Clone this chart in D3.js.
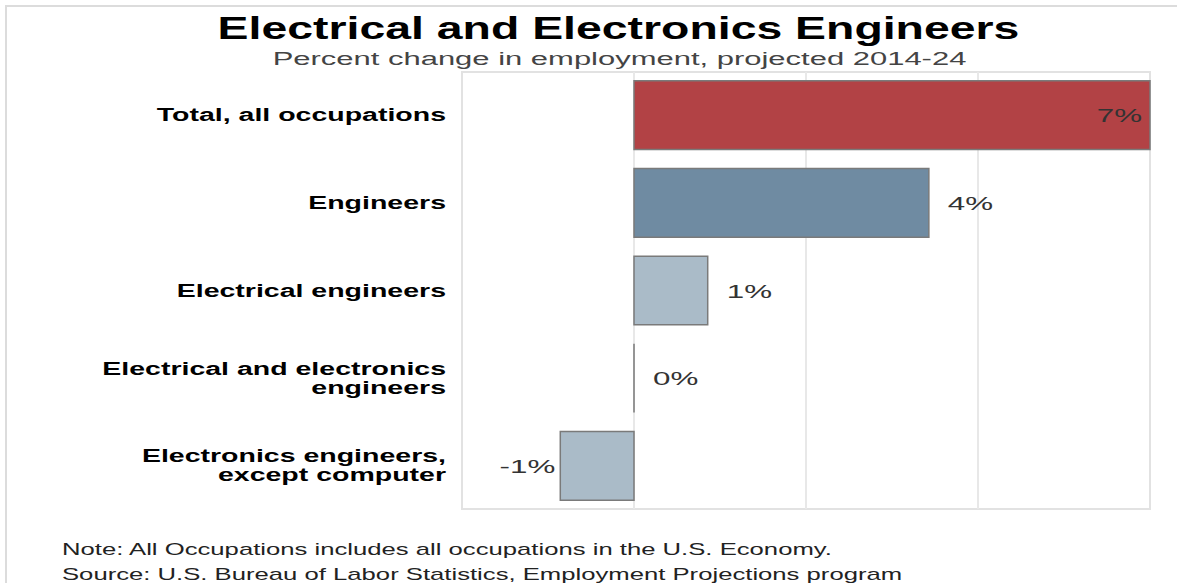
<!DOCTYPE html>
<html>
<head>
<meta charset="utf-8">
<script src="https://cdn.jsdelivr.net/npm/d3@7"></script>
<style>
  body { margin: 0; background: #fff; }
  text { font-family: "Liberation Sans", Arial, sans-serif; }
</style>
</head>
<body>
<div id="chart"></div>
<script>
// Data
const categories = [
  "Total, all occupations",
  "Engineers",
  "Electrical engineers",
  "Electrical and electronics engineers",
  "Electronics engineers, except computer"
];
const labelLines = [
  ["Total, all occupations"],
  ["Engineers"],
  ["Electrical engineers"],
  ["Electrical and electronics", "engineers"],
  ["Electronics engineers,", "except computer"]
];
const values = [7, 4, 1, 0, -1];
const valueLabels = ["7%", "4%", "1%", "0%", "-1%"];
const notes = [
  "Note: All Occupations includes all occupations in the U.S. Economy.",
  "Source: U.S. Bureau of Labor Statistics, Employment Projections program"
];

const width = 1177, height = 583;
const plot = { left: 462, right: 1150, top: 72, bottom: 509 };

const barColors = ["#b24245", "#6f8ba2", "#aabbc8", "#aabbc8", "#aabbc8"];

const svg = d3.select("#chart")
  .append("svg")
  .attr("width", width)
  .attr("height", height);

// outer frame (top and left edge only)
svg.append("path")
  .attr("d", `M6,${height} V6 H${width}`)
  .attr("fill", "none")
  .attr("stroke", "#dcdcdc")
  .attr("stroke-width", 2);

// Scales
const step = 7 / 3;
const xScale = d3.scaleLinear().domain([-step, 7]).range([plot.left, plot.right]);
const yScale = d3.scaleBand()
  .domain(categories)
  .range([plot.top, plot.bottom])
  .paddingInner(0.216)
  .paddingOuter(0.1);

// the picture is stretched sideways, so text gets a horizontal scale
function stretchedText(x, y, anchor, sx) {
  return svg.append("text")
    .attr("transform", `translate(${x},${y}) scale(${sx},1)`)
    .attr("text-anchor", anchor);
}

// Title
stretchedText(width / 2 + 30, 39, "middle", 1.45)
  .attr("font-size", 32)
  .attr("font-weight", "bold")
  .attr("fill", "#000")
  .text("Electrical and Electronics Engineers");

stretchedText(width / 2 + 31, 65, "middle", 1.63)
  .attr("font-size", 19)
  .attr("fill", "#444")
  .text("Percent change in employment, projected 2014-24");

// Plot frame and grid
svg.append("rect")
  .attr("x", plot.left)
  .attr("y", plot.top)
  .attr("width", plot.right - plot.left)
  .attr("height", plot.bottom - plot.top)
  .attr("fill", "none")
  .attr("stroke", "#e2e2e2")
  .attr("stroke-width", 2);

svg.append("g")
  .selectAll("line")
  .data(d3.range(1, 4).map((i) => -step + i * step))
  .enter()
  .append("line")
  .attr("x1", (d) => xScale(d))
  .attr("x2", (d) => xScale(d))
  .attr("y1", plot.top)
  .attr("y2", plot.bottom)
  .attr("stroke", "#e8e8e8")
  .attr("stroke-width", 2);

// Bars (drawn as paths so a zero bar still shows its edge)
const rows = categories.map((c, i) => ({
  name: c,
  lines: labelLines[i],
  value: values[i],
  label: valueLabels[i],
  color: barColors[i]
}));

svg.append("g")
  .selectAll("path")
  .data(rows)
  .enter()
  .append("path")
  .attr("d", (d) => {
    const x0 = xScale(Math.min(0, d.value));
    const x1 = xScale(Math.max(0, d.value));
    const y0 = yScale(d.name);
    return `M${x0},${y0}H${x1}V${y0 + yScale.bandwidth()}H${x0}Z`;
  })
  .attr("fill", (d) => d.color)
  .attr("stroke", "#7a7a7a")
  .attr("stroke-width", 1.5);

// Value labels
const maxValue = d3.max(values);
rows.forEach((d) => {
  const yMid = yScale(d.name) + yScale.bandwidth() / 2 + 7;
  let x, anchor;
  if (d.value === maxValue) {
    x = xScale(d.value) - 8;
    anchor = "end";
  } else if (d.value < 0) {
    x = xScale(d.value) - 5;
    anchor = "end";
  } else {
    x = xScale(d.value) + 19;
    anchor = "start";
  }
  stretchedText(x, yMid, anchor, 1.65)
    .attr("font-size", 19)
    .attr("fill", "#333")
    .text(d.label);
});

// Category labels
rows.forEach((d) => {
  const yMid = yScale(d.name) + yScale.bandwidth() / 2;
  const lineGap = 19;
  const first = yMid + 6 - ((d.lines.length - 1) * lineGap) / 2;
  d.lines.forEach((line, j) => {
    stretchedText(446, first + j * lineGap, "end", 1.5)
      .attr("font-size", 19)
      .attr("font-weight", "bold")
      .attr("fill", "#000")
      .text(line);
  });
});

// Notes
notes.forEach((n, i) => {
  stretchedText(62, 555 + i * 25, "start", 1.51)
    .attr("font-size", 17)
    .attr("fill", "#222")
    .text(n);
});
</script>
</body>
</html>
